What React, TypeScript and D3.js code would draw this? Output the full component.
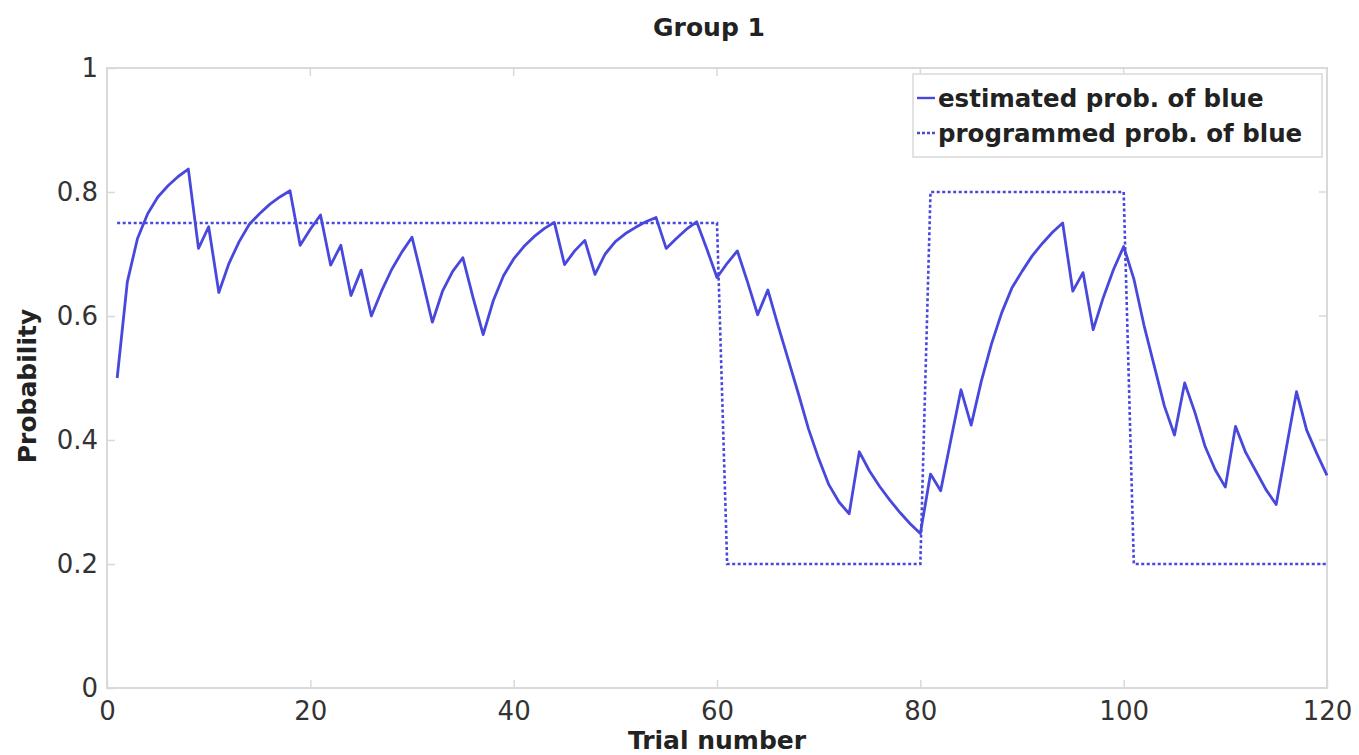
import React, { useRef, useEffect } from 'react'
import * as d3 from 'd3'

// trial index 1..120
const trials = d3.range(1, 121)

// estimated prob. of blue, one value per trial
const estimatedProb = [
  0.5, 0.655, 0.725, 0.765, 0.792, 0.81, 0.825, 0.837, 0.709, 0.744,
  0.638, 0.685, 0.72, 0.748, 0.765, 0.78, 0.792, 0.802, 0.714, 0.74,
  0.763, 0.682, 0.714, 0.633, 0.674, 0.6, 0.64, 0.675, 0.703, 0.727,
  0.66, 0.59, 0.64, 0.672, 0.694, 0.63, 0.57, 0.625, 0.665, 0.692,
  0.712, 0.728, 0.741, 0.751, 0.683, 0.705, 0.722, 0.667, 0.7, 0.72,
  0.733, 0.743, 0.752, 0.759, 0.709, 0.725, 0.74, 0.752, 0.708, 0.662,
  0.685, 0.705, 0.655, 0.602, 0.642, 0.585, 0.53, 0.475, 0.418, 0.37,
  0.328, 0.3, 0.281, 0.381, 0.35, 0.325, 0.303, 0.283, 0.265, 0.249,
  0.345, 0.318, 0.4, 0.481, 0.424, 0.495, 0.555, 0.605, 0.645, 0.672,
  0.697, 0.717, 0.735, 0.75, 0.64, 0.67, 0.578, 0.63, 0.675, 0.712,
  0.66, 0.585, 0.52, 0.455, 0.408, 0.492, 0.445, 0.39, 0.352, 0.324,
  0.422, 0.38, 0.35, 0.32, 0.296, 0.387, 0.478, 0.416, 0.378, 0.343,
]

// programmed prob. of blue: blocks of trials
const blockFirst = [1, 61, 81, 101]
const blockLast = [60, 80, 100, 120]
const programmedProb = [0.75, 0.2, 0.8, 0.2]

const xTicks = [0, 20, 40, 60, 80, 100, 120]
const yTicks = [0, 0.2, 0.4, 0.6, 0.8, 1]
const legendLabels = ['estimated prob. of blue', 'programmed prob. of blue']

const lineColor = '#4848dc'
const axisColor = '#d9d9d9'
const textColor = '#333'
const font = '"DejaVu Sans", sans-serif'

function App() {
  const svgRef = useRef<SVGSVGElement>(null)

  useEffect(() => {
    const width = 1359
    const height = 755
    const margin = { top: 68, right: 32, bottom: 67, left: 107 }

    const svg = d3.select(svgRef.current)
    svg.selectAll('*').remove()

    const xScale = d3.scaleLinear()
      .domain([0, 120])
      .range([margin.left, width - margin.right])

    const yScale = d3.scaleLinear()
      .domain([0, 1])
      .range([height - margin.bottom, margin.top])

    // box
    svg.append('rect')
      .attr('x', xScale(0))
      .attr('y', yScale(1))
      .attr('width', xScale(120) - xScale(0))
      .attr('height', yScale(0) - yScale(1))
      .attr('fill', 'none')
      .attr('stroke', axisColor)
      .attr('stroke-width', 2)

    function xAxis(g) {
      g.attr('transform', `translate(0, ${yScale(0)})`)
        .call(d3.axisBottom(xScale).tickValues(xTicks).tickSizeInner(-8).tickSizeOuter(0).tickPadding(14))
      g.select('.domain').remove()
      g.selectAll('line').attr('stroke', axisColor).attr('stroke-width', 1.5)
      g.selectAll('text')
        .attr('fill', textColor)
        .style('font-family', font)
        .style('font-size', '26px')
    }

    function yAxis(g) {
      g.attr('transform', `translate(${xScale(0)}, 0)`)
        .call(d3.axisLeft(yScale).tickValues(yTicks).tickFormat(d3.format('~g')).tickSizeInner(-8).tickSizeOuter(0).tickPadding(9))
      g.select('.domain').remove()
      g.selectAll('line').attr('stroke', axisColor).attr('stroke-width', 1.5)
      g.selectAll('text')
        .attr('fill', textColor)
        .style('font-family', font)
        .style('font-size', '26px')
    }

    svg.append('g').call(xAxis)
    svg.append('g').call(yAxis)

    // mirrored ticks on top / right
    svg.append('g')
      .selectAll('line')
      .data(xTicks)
      .join('line')
      .attr('x1', d => xScale(d))
      .attr('x2', d => xScale(d))
      .attr('y1', yScale(1))
      .attr('y2', yScale(1) + 8)
      .attr('stroke', axisColor)
      .attr('stroke-width', 1.5)
    svg.append('g')
      .selectAll('line')
      .data(yTicks)
      .join('line')
      .attr('x1', xScale(120))
      .attr('x2', xScale(120) - 8)
      .attr('y1', d => yScale(d))
      .attr('y2', d => yScale(d))
      .attr('stroke', axisColor)
      .attr('stroke-width', 1.5)

    // programmed prob. (dotted)
    const programmedPts = []
    blockFirst.forEach((f, i) => {
      programmedPts.push([f, programmedProb[i]])
      programmedPts.push([blockLast[i], programmedProb[i]])
    })
    const line = d3.line()
      .x(d => xScale(d[0]))
      .y(d => yScale(d[1]))

    svg.append('path')
      .datum(programmedPts)
      .attr('d', line)
      .attr('fill', 'none')
      .attr('stroke', lineColor)
      .attr('stroke-width', 2.6)
      .attr('stroke-dasharray', '3,2.5')

    // estimated prob. (solid)
    svg.append('path')
      .datum(trials.map((t, i) => [t, estimatedProb[i]]))
      .attr('d', line)
      .attr('fill', 'none')
      .attr('stroke', lineColor)
      .attr('stroke-width', 2.8)
      .attr('stroke-linejoin', 'round')

    // legend
    const legend = svg.append('g')
    legend.append('rect')
      .attr('x', 913)
      .attr('y', 74)
      .attr('width', 409)
      .attr('height', 83)
      .attr('fill', 'white')
      .attr('stroke', axisColor)
      .attr('stroke-width', 1.5)
    legendLabels.forEach((label, i) => {
      const y = 98 + i * 35
      legend.append('line')
        .attr('x1', 917)
        .attr('x2', 935)
        .attr('y1', y)
        .attr('y2', y)
        .attr('stroke', lineColor)
        .attr('stroke-width', 2.4)
        .attr('stroke-dasharray', i === 1 ? '3,2' : null)
      legend.append('text')
        .attr('x', 938)
        .attr('y', y)
        .attr('dy', '0.35em')
        .attr('fill', '#222')
        .style('font-family', font)
        .style('font-weight', 'bold')
        .style('font-size', '24.5px')
        .text(label)
    })

    // title and axis labels
    svg.append('text')
      .attr('x', xScale(60) - 8)
      .attr('y', 36)
      .attr('text-anchor', 'middle')
      .attr('fill', '#222')
      .style('font-family', font)
      .style('font-weight', 'bold')
      .style('font-size', '25px')
      .text('Group 1')

    svg.append('text')
      .attr('x', xScale(60))
      .attr('y', 749)
      .attr('text-anchor', 'middle')
      .attr('fill', '#222')
      .style('font-family', font)
      .style('font-weight', 'bold')
      .style('font-size', '25px')
      .text('Trial number')

    svg.append('text')
      .attr('transform', 'translate(36, 386) rotate(-90)')
      .attr('text-anchor', 'middle')
      .attr('fill', '#222')
      .style('font-family', font)
      .style('font-weight', 'bold')
      .style('font-size', '25px')
      .text('Probability')
  }, [])

  return (
    <div>
      <style>{'body{margin:0;background:#fff}'}</style>
      <svg ref={svgRef} width={1359} height={755} style={{ display: 'block' }}></svg>
    </div>
  )
}

export default App
